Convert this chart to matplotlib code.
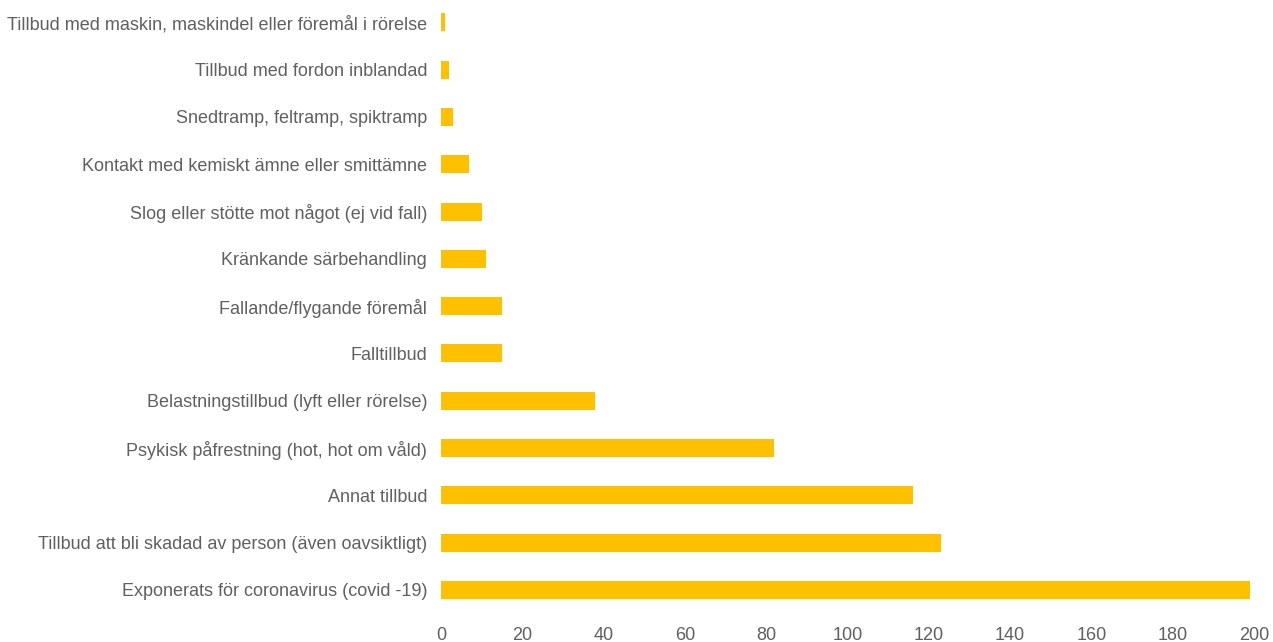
import matplotlib
matplotlib.use("Agg")
import matplotlib.pyplot as plt

categories = [
    "Exponerats för coronavirus (covid -19)",
    "Tillbud att bli skadad av person (även oavsiktligt)",
    "Annat tillbud",
    "Psykisk påfrestning (hot, hot om våld)",
    "Belastningstillbud (lyft eller rörelse)",
    "Falltillbud",
    "Fallande/flygande föremål",
    "Kränkande särbehandling",
    "Slog eller stötte mot något (ej vid fall)",
    "Kontakt med kemiskt ämne eller smittämne",
    "Snedtramp, feltramp, spiktramp",
    "Tillbud med fordon inblandad",
    "Tillbud med maskin, maskindel eller föremål i rörelse",
]
values = [199, 123, 116, 82, 38, 15, 15, 11, 10, 7, 3, 2, 1]
xticks = list(range(0, 201, 20))

plt.rcParams['font.family'] = ['Liberation Sans', 'DejaVu Sans']
fig = plt.figure(figsize=(12.73, 6.42), dpi=100)
ax = fig.add_axes([441/1273, 1 - 616/642, (1254-441)/1273, 615/642])
ax.barh(range(len(categories)), values, height=0.38, color="#FFC000")
ax.set_yticks(range(len(categories)))
ax.set_yticklabels(categories)
ax.set_xticks(xticks)
ax.set_xlim(0, 200)
ax.set_ylim(-0.55, len(categories) - 0.55)
for s in ax.spines.values():
    s.set_visible(False)
ax.tick_params(axis='both', length=0, labelsize=13, colors="#606060")
ax.tick_params(axis='y', pad=10)
ax.tick_params(axis='x', pad=8)
fig.savefig("out.png", dpi=100, facecolor="white")
